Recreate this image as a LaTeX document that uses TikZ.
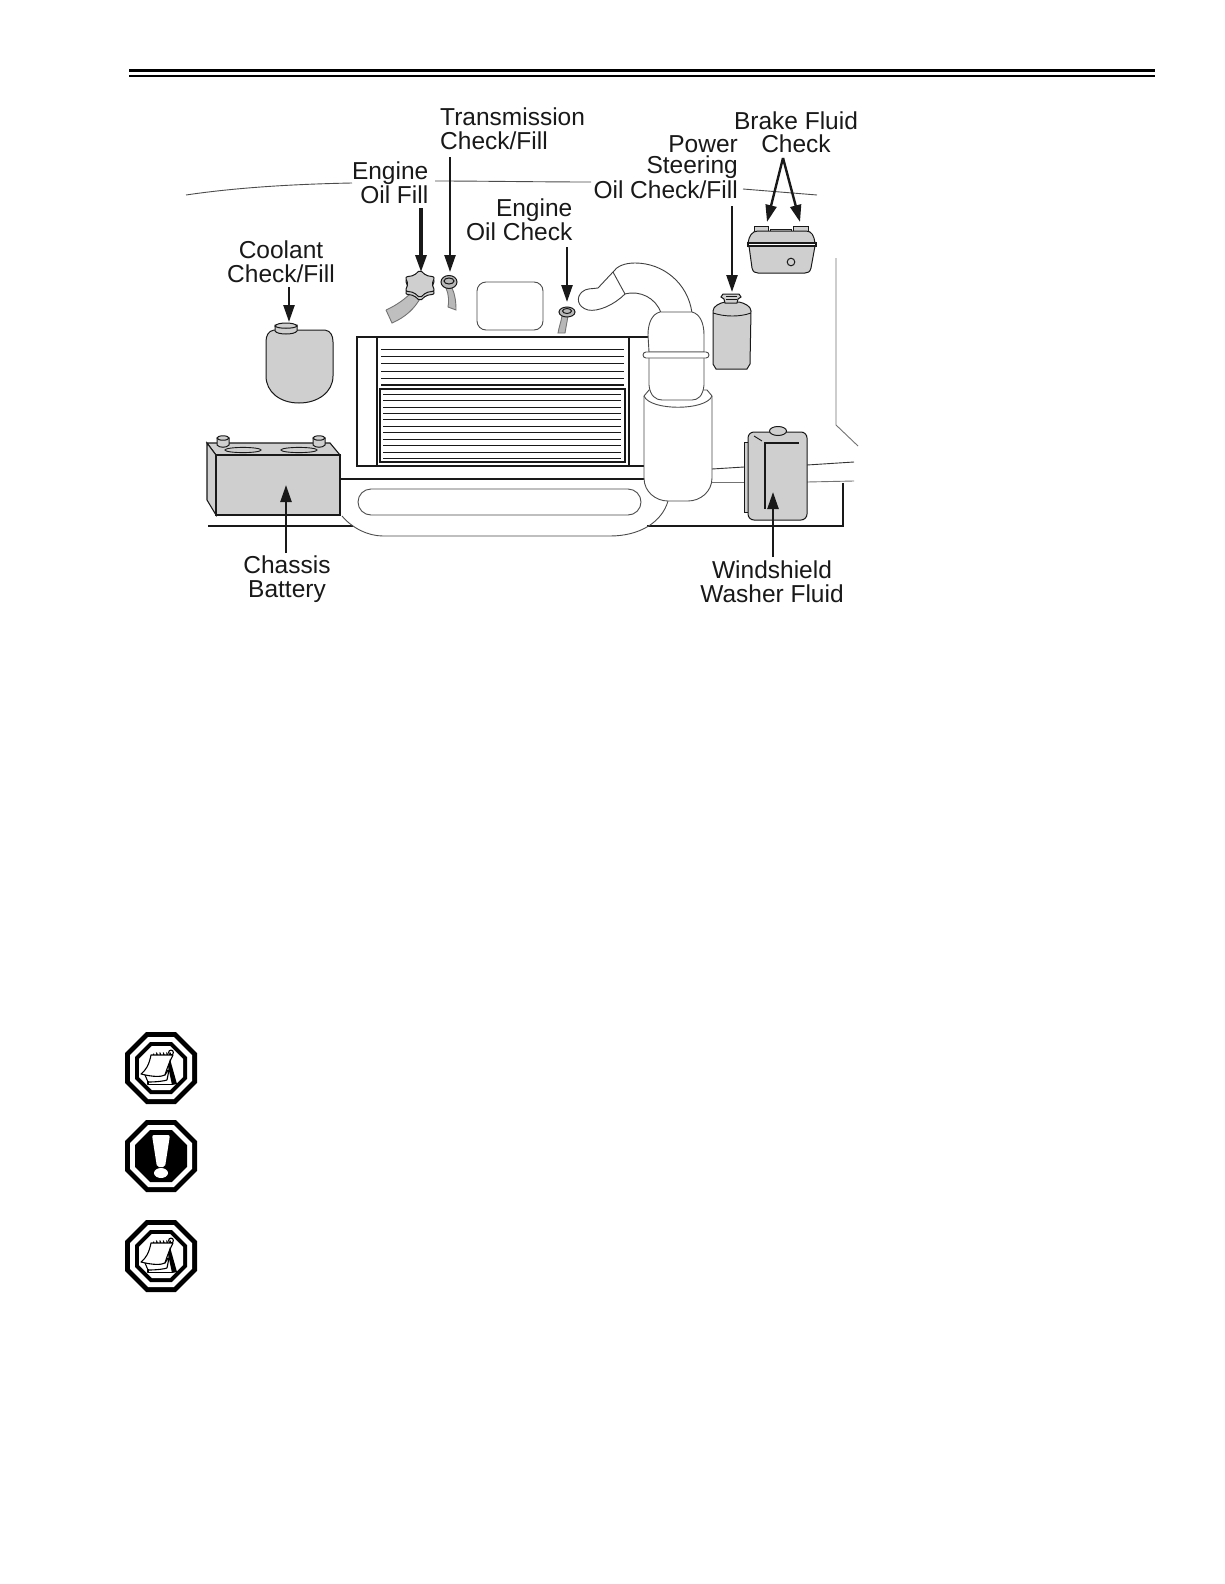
\documentclass[tikz,border=0pt]{standalone}
\usepackage{fontspec}
\setmainfont{Liberation Sans}
\usetikzlibrary{arrows.meta,shapes.geometric}
\definecolor{partgray}{gray}{0.81}
\definecolor{ink}{gray}{0.1}
\tikzset{
  lbl/.style={inner sep=0pt,font=\fontsize{24.5}{24}\selectfont,text=ink},
  arr/.style={draw=ink,line width=2.4pt,-{Triangle[length=17pt,width=11pt]}},
  arrb/.style={arr,line width=3.2pt},
  part/.style={draw=ink,line width=1pt,fill=partgray},
  thin line/.style={draw=ink,line width=0.9pt},
  soft/.style={draw=black!55,line width=0.9pt},
  hard/.style={draw=ink,line width=1.15pt},
  oct/.style={regular polygon,regular polygon sides=8,inner sep=0pt,draw=none,minimum size=#1*2.1648pt},
  padline/.style={draw=black,line width=1.1pt,line join=round},
}
\newcommand{\notepad}[1]{%
  \begin{scope}[shift={(#1)}]
    \foreach \i in {0,...,4}{\draw[padline,line width=1pt] (-7.5+\i*3.4,-14.5) arc[start angle=200,end angle=-60,radius=2];}
    \draw[padline] (10,-15.5) circle[radius=2.4];
    \draw[padline,fill=white] (-10,-13) .. controls (-12,-3) and (-15,2) .. (-20,6) .. controls (-8,9) and (0,9) .. (4,7) .. controls (6,0) and (9,-7) .. (12,-13) -- cycle;
    \draw[padline] (-16,7) -- (-13,14) .. controls (-4,14) and (3,13) .. (6,12);
    \draw[padline] (-13,13) -- (-13,16.5) -- (11,16.5);
    \draw[padline] (4,7) -- (7,2) (6,12) -- (9,-3);
    \fill[black] (9,-9) -- (16,16) -- (11,17) -- (7,-2) -- cycle;
  \end{scope}}
\newcommand{\octframe}[3]{%
  \node[oct=36,fill=black] (#1a) at (#2) {};
  \node[oct=31,fill=white] (#1b) at (#2) {};
  \node[oct=26,fill=black] (#1c) at (#2) {};
  \node[oct=22,fill=#3] (#1d) at (#2) {};}
\newcommand{\capstar}[1]{%
  \draw[part,rounded corners=2pt,shift={(#1)},yscale=0.82] (30:17) -- (60:12) -- (90:17) -- (120:12) -- (150:17) -- (180:12) -- (210:17) -- (240:12) -- (270:17) -- (300:12) -- (330:17) -- (0:12) -- cycle;}
\begin{document}
\begin{tikzpicture}[x=1pt,y=-1pt]
\useasboundingbox[fill=white] (0,0) rectangle (1224,1584);

% header rules
\fill[black] (129,69) rectangle (1155,72.5);
\fill[black] (129,74.8) rectangle (1155,76.8);

% hood line
\draw[soft,draw=black!70] (186,195) .. controls (240,187) and (300,184) .. (352,183);
\draw[soft,draw=black!70] (435,181) .. controls (480,181) and (540,182) .. (591,182);
\draw[soft,draw=black!70] (743,189) -- (817,195);
% right body line
\draw[soft] (836,258) -- (836,425) -- (858,446);

% base frame
\draw[hard] (208,526) -- (353,526);
\draw[hard] (647,526) -- (843,526) -- (843,483);
\draw[hard] (341,479) -- (644,479);

% bumper and slot
\draw[soft,draw=black!70] (342,516) .. controls (352,528) and (368,536) .. (383,536) -- (610,536) .. controls (640,536) and (662,522) .. (668,501);
\draw[soft,draw=black!70,rounded corners=13pt] (358,489) rectangle (641,515);

% radiator
\draw[hard] (644,466) -- (357,466) -- (357,337) -- (648,337);
\draw[hard] (377,337) -- (377,466);
\draw[hard] (629,337) -- (629,466);
\foreach \y in {349.3,356.7,363.3,371.7,378.3,385}{\draw[hard] (381,\y) -- (624,\y);}
\draw[hard] (380,389) rectangle (625,462);
\foreach \y in {14.3,20.3,27.3,33.3,39.3,46.7,52.3,59.3,65.3,72.3,78.7}{\draw[hard] (383,380+\y) -- (621,380+\y);}

% rounded box
\draw[soft,draw=black!70,rounded corners=9pt] (477,282) rectangle (543,330);

% air-intake duct
\draw[soft,draw=black!75,fill=white] (692,313) .. controls (688,283) and (663,263) .. (635,263) .. controls (625,263) and (617,266) .. (613,272) -- (598,288) .. controls (592,289) and (586,288) .. (582,292) .. controls (576,297) and (577,307) .. (588,310) .. controls (598,312) and (614,305) .. (625,294) .. controls (640,290) and (656,298) .. (661,313) -- cycle;
\draw[soft,draw=black!75] (613,272) -- (625,294);

% lower canister
\draw[soft,draw=black!70,fill=white] (644,396) -- (649,390) -- (707,390) -- (712,396) -- (712,478) .. controls (712,492) and (700,501) .. (688,501) -- (668,501) .. controls (656,501) and (644,492) .. (644,478) -- cycle;
\draw[soft,draw=black!70] (644,396) .. controls (650,411) and (706,411) .. (712,396);
% upper housing
\draw[soft,draw=black!70,fill=white] (649,352) -- (649,385) .. controls (650,396) and (656,400) .. (662,400) -- (692,400) .. controls (698,400) and (703,396) .. (704,385) -- (704,352) -- cycle;
\draw[soft,draw=black!70,fill=white] (649,352) -- (648,335) .. controls (648,323) and (652,314) .. (660,312) -- (692,312) .. controls (700,314) and (704,323) .. (704,335) -- (704,352) -- cycle;
\draw[soft,draw=black!70,fill=white,rounded corners=3pt] (643,352) rectangle (709,358);

% washer hoses
\draw[soft,draw=black!80] (712,469) -- (744,467);
\draw[soft] (712,482) -- (744,482);
\draw[soft,draw=black!80] (807,465) -- (854,462);
\draw[soft] (807,482) -- (854,481);

% coolant tank
\draw[part] (274,330) .. controls (268,331) and (266,336) .. (266,342) -- (266,376) .. controls (266,392) and (280,403) .. (299,403) .. controls (318,403) and (333,392) .. (333,376) -- (333,342) .. controls (333,336) and (331,331) .. (325,330) -- cycle;
\draw[part] (275,331) .. controls (277,335) and (295,335) .. (297,331) -- (297,325) -- (275,325) -- cycle;
\draw[part] (275,326) .. controls (277,322) and (295,322) .. (297,326) .. controls (295,329) and (277,329) .. (275,326) -- cycle;

% engine oil fill: hose and cap
\draw[part,fill=black!25,draw=none] (386,310) .. controls (397,305) and (405,299) .. (412,292) -- (421,297) .. controls (415,308) and (406,317) .. (392,323) -- cycle;
\draw[soft] (386,310) .. controls (397,305) and (405,299) .. (412,292);
\draw[soft] (421,297) .. controls (415,308) and (406,317) .. (392,323) -- (386,310);
\capstar{420,287}
\capstar{420,284}

% transmission dipstick
\draw[soft,fill=black!28] (446,288) .. controls (449,295) and (449,302) .. (448,307) -- (456,310) .. controls (456,302) and (455,294) .. (452,288) -- cycle;
\draw[part,fill=black!28] (449,282) ellipse[x radius=8,y radius=6.5];
\draw[part,fill=black!28] (449,281) ellipse[x radius=5,y radius=3];

% engine oil check dipstick
\draw[soft,fill=black!28] (562,316) .. controls (561,322) and (559,327) .. (558,333) -- (565,333) .. controls (566,327) and (567,322) .. (568,316) -- cycle;
\draw[part,fill=black!28] (567,312) ellipse[x radius=8,y radius=5];
\draw[part,fill=black!28] (567,311) ellipse[x radius=4.5,y radius=2.5];

% power steering reservoir
\draw[part] (713,311) .. controls (713,306) and (720,303) .. (725,302) -- (739,302) .. controls (744,303) and (751,306) .. (751,311) -- (750,364) -- (747,369) -- (716,369) -- (713,364) -- cycle;
\draw[thin line] (713,313) .. controls (725,317) and (740,317) .. (751,313);
\draw[part] (725,303) -- (724,299) -- (721,297) -- (723,294) -- (739,294) -- (741,297) -- (738,299) -- (737,303) -- cycle;
\draw[thin line] (726,296) -- (737,296) (726,299) -- (737,299);

% brake fluid reservoir
\draw[part] (754,231) -- (754,226) -- (768,226) -- (768,231) -- cycle;
\draw[part] (793,231) -- (793,226) -- (808,226) -- (808,231) -- cycle;
\draw[part] (770,232) -- (770,229.5) -- (791,229.5) -- (791,232) -- cycle;
\draw[part] (748,243) .. controls (749,236) and (752,231) .. (758,231) -- (806,231) .. controls (812,231) and (814,236) .. (815,243) -- cycle;
\draw[part] (749,246) -- (752,268) .. controls (753,272) and (755,273) .. (758,273) -- (805,273) .. controls (808,273) and (810,272) .. (811,268) -- (815,246) -- cycle;
\draw[part,line width=1.3pt,fill=white] (748,243) rectangle (816,246);
\draw[part,fill=partgray] (791,262) circle[radius=3.8];

% battery
\draw[part,line width=1.1pt] (216,455) -- (207,443) -- (330,443) -- (340,455) -- cycle;
\draw[part,line width=1.1pt] (216,455) -- (207,443) -- (207,500) -- (216,515) -- cycle;
\draw[part,line width=1.1pt] (216,455) rectangle (340,515);
\draw[thin line,fill=partgray] (243,450) ellipse[x radius=18,y radius=2.6];
\draw[thin line,fill=partgray] (299,450) ellipse[x radius=18,y radius=2.6];
\foreach \x in {223,319}{
  \draw[part] (\x-6,438) -- (\x-6,445) .. controls (\x-4,448) and (\x+4,448) .. (\x+6,445) -- (\x+6,438) -- cycle;
  \draw[part] (\x,438) ellipse[x radius=6,y radius=2.2];
}

% washer tank
\draw[part,fill=partgray] (744,442) rectangle (750,512);
\draw[part,rounded corners=6pt] (748,432) rectangle (807,520);
\draw[part] (778,431) ellipse[x radius=8.5,y radius=4.5];
\draw[hard,line width=1.5pt] (765,509) -- (765,443) -- (799,443);
\draw[thin line] (754,436) -- (762,441);

% labels (base anchor is the last line of each block)
\node[lbl,anchor=base west,align=left] (transLbl) at (440,149.5) {Transmission\\Check/Fill};
\node[lbl,anchor=base east,align=right] (oilFillLbl) at (428.5,203) {Engine\\Oil Fill};
\node[lbl,anchor=base,align=center] (coolLbl) at (281,282) {Coolant\\Check/Fill};
\node[lbl,anchor=base east,align=right] (oilChkLbl) at (572.5,240) {Engine\\Oil Check};
\node[lbl,anchor=base east,align=right] (psLbl) at (738,198) {Power\\[-3pt]Steering\\[1pt]Oil Check/Fill};
\node[lbl,anchor=base,align=center] (brakeLbl) at (796,153) {Brake Fluid\\Check};
\node[lbl,anchor=base,align=center] (battLbl) at (287,597) {Chassis\\Battery};
\node[lbl,anchor=base,align=center] (washLbl) at (772,602) {Windshield\\Washer Fluid};

% arrow ends
\coordinate (coolT) at (289,287);  \coordinate (coolH) at (289,322);
\coordinate (fillT) at (421,208);  \coordinate (fillH) at (421,272);
\coordinate (tranT) at (450,157);  \coordinate (tranH) at (450,272);
\coordinate (chkT)  at (567,247);  \coordinate (chkH)  at (567,302);
\coordinate (psT)   at (732,206);  \coordinate (psH)   at (732,292);
\coordinate (brT)   at (783,158);  \coordinate (brL)   at (767,222); \coordinate (brR) at (800,222);
\coordinate (batT)  at (286,553);  \coordinate (batH)  at (286,485);
\coordinate (wasT)  at (773,557);  \coordinate (wasH)  at (773,492);
\draw[arr] (coolT) -- (coolH);
\draw[arrb] (fillT) -- (fillH);
\draw[arr] (tranT) -- (tranH);
\draw[arr] (chkT) -- (chkH);
\draw[arr] (psT) -- (psH);
\draw[arr] (brT) -- (brL);
\draw[arr] (brT) -- (brR);
\draw[arr] (batT) -- (batH);
\draw[arr] (wasT) -- (wasH);

% icons
\octframe{noteA}{161,1068}{white}
\notepad{161,1068}
\octframe{warn}{161,1156}{black}
\begin{scope}[shift={(161,1156)}]
  \fill[white,rounded corners=2pt] (-9,-21) -- (9,-21) -- (4,11) -- (-4,11) -- cycle;
  \fill[white] (0,17) ellipse[x radius=7,y radius=5];
\end{scope}
\octframe{noteB}{161,1256}{white}
\notepad{161,1256}
\end{tikzpicture}
\end{document}
